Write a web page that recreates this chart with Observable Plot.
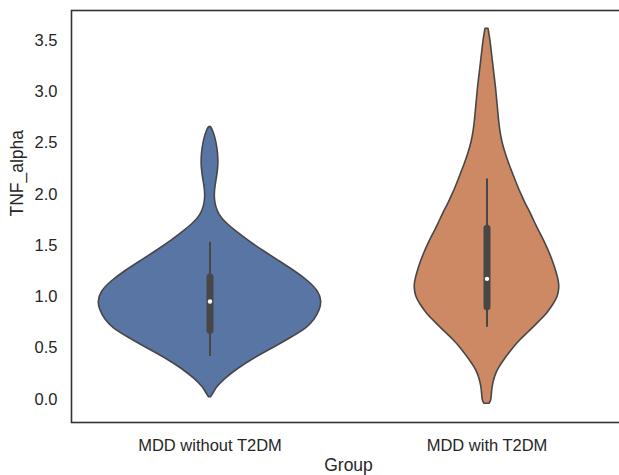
<!DOCTYPE html>
<html>
<head>
<meta charset="utf-8">
<script src="https://cdn.jsdelivr.net/npm/d3@7"></script>
<script src="https://cdn.jsdelivr.net/npm/@observablehq/plot@0.6"></script>
<style>
  html, body { margin: 0; padding: 0; background: #fff; overflow: hidden; }
  #chart { width: 619px; height: 475px; overflow: hidden; }
</style>
</head>
<body>
<div id="chart"></div>
<script>
// Categories (placed at category index + 0.5 on the x axis)
const categories = ["MDD without T2DM", "MDD with T2DM"];
const yTicks = [0, 0.5, 1, 1.5, 2, 2.5, 3, 3.5];

// Violin outlines: TNF_alpha value and half-width (in pixels of the reference, category spacing = 277)
const blueY  = [0.022, 0.06, 0.12, 0.20, 0.30, 0.40, 0.50, 0.60, 0.70, 0.78, 0.87, 0.95, 1.05, 1.15, 1.25, 1.35, 1.45, 1.55, 1.64, 1.72, 1.80, 1.88, 1.96, 2.05, 2.15, 2.25, 2.35, 2.45, 2.55, 2.62, 2.654];
const blueHW = [1, 3.5, 7, 15, 28, 44, 63, 81, 98, 105, 110, 112, 109, 99, 85, 69, 53, 38, 26, 16, 9, 6, 4.6, 5, 6.8, 8.3, 8.5, 7.5, 5.5, 3, 1];

const orangeY  = [-0.042, -0.01, 0.05, 0.12, 0.185, 0.25, 0.315, 0.38, 0.445, 0.51, 0.575, 0.64, 0.705, 0.77, 0.834, 0.93, 1.00, 1.08, 1.15, 1.225, 1.32, 1.42, 1.52, 1.615, 1.70, 1.81, 1.90, 2.005, 2.10, 2.20, 2.30, 2.40, 2.50, 2.60, 2.72, 2.88, 3.044, 3.20, 3.37, 3.50, 3.613];
const orangeHW = [2.5, 4.5, 4.8, 5.5, 7, 9, 12.5, 17, 22, 27, 33, 40, 47, 53.5, 60, 67, 71, 72.5, 72, 70, 67, 63, 58.5, 53.5, 49, 44, 39, 34, 30, 26, 22, 18.5, 15.5, 13.5, 12, 10.5, 9, 7, 5, 3.5, 1.5];

// Inner box plot statistics
const whiskerLow  = [0.42, 0.705];
const q1          = [0.67, 0.90];
const medians     = [0.955, 1.176];
const q3          = [1.19, 1.664];
const whiskerHigh = [1.533, 2.15];

const colors = ["#5875a4", "#cc8963"];
const spacingPx = 277;

const violinRows = [];
[[blueY, blueHW], [orangeY, orangeHW]].forEach(([ys, hws], i) => {
  ys.forEach((y, j) => violinRows.push({cat: categories[i], center: i + 0.5, y, hw: hws[j] / spacingPx}));
});
const boxRows = categories.map((c, i) => ({
  cat: c, x: i + 0.5, lo: whiskerLow[i], q1: q1[i], med: medians[i], q3: q3[i], hi: whiskerHigh[i]
}));

const edge = "#474747";

const chart = Plot.plot({
  width: 630,
  height: 475,
  marginLeft: 71,
  marginRight: 5,
  marginTop: 10,
  marginBottom: 53,
  style: {maxWidth: "none", fontFamily: "'Liberation Sans', Arial, sans-serif", fontSize: "16.5px", color: "#262626", background: "#fff"},
  x: {domain: [0, 2], axis: null},
  y: {domain: [-0.224, 3.791], axis: null},
  marks: [
    Plot.axisY({ticks: yTicks, tickSize: 0, tickPadding: 14, tickFormat: d3.format(".1f"), label: null, fontSize: 16.5}),
    Plot.axisX({ticks: [0.5, 1.5], tickSize: 0, tickPadding: 17, tickFormat: d => categories[Math.floor(d)], label: null, fontSize: 16.5}),
    ...categories.map((c, i) => Plot.areaX(violinRows.filter(r => r.cat === c), {
      y: "y",
      x1: d => d.center - d.hw,
      x2: d => d.center + d.hw,
      curve: "basis",
      fill: colors[i],
      stroke: edge,
      strokeWidth: 1.6
    })),
    Plot.ruleX(boxRows, {x: "x", y1: "lo", y2: "hi", stroke: edge, strokeWidth: 2}),
    Plot.ruleX(boxRows, {x: "x", y1: "q1", y2: "q3", stroke: edge, strokeWidth: 7, strokeLinecap: "round"}),
    Plot.dot(boxRows, {x: "x", y: "med", r: 2.2, fill: "white", stroke: null}),
    Plot.frame({stroke: "#333", strokeWidth: 1.6}),
    Plot.text(["TNF_alpha"], {frameAnchor: "left", dx: -54, rotate: -90, fontSize: 17.5, fill: "#262626"}),
    Plot.text(["Group"], {frameAnchor: "bottom", dy: 48, fontSize: 17.5, fill: "#262626"})
  ]
});
document.getElementById("chart").appendChild(chart);
</script>
</body>
</html>
